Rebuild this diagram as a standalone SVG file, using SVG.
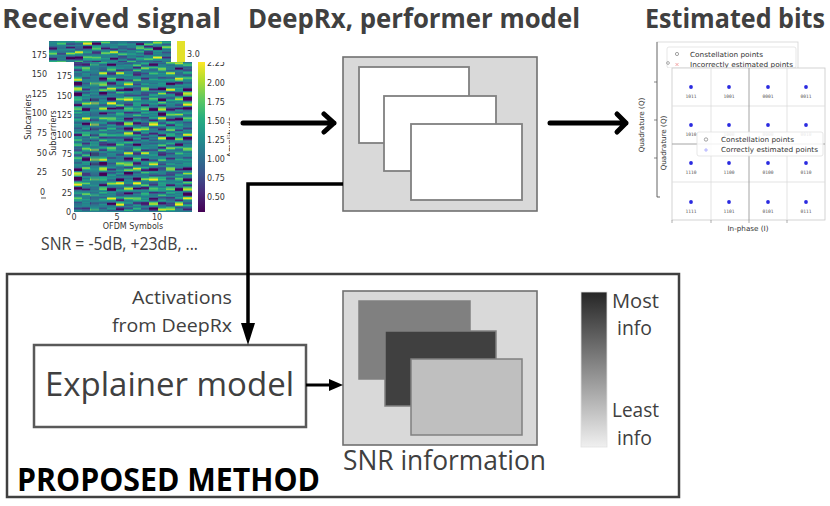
<svg xmlns="http://www.w3.org/2000/svg" width="830" height="506" viewBox="0 0 830 506">
<style>
.ttl{font-family:"Open Sans","Liberation Sans",sans-serif;font-weight:bold;font-size:26px;fill:#404040}
.lbl{font-family:"Open Sans","Liberation Sans",sans-serif;fill:#404040}
.tk{font-family:"DejaVu Sans",sans-serif;font-size:8px;fill:#333}
.tks{font-family:"DejaVu Sans",sans-serif;font-size:7.2px;fill:#333}
.lg{font-family:"DejaVu Sans",sans-serif;font-size:7px;fill:#333}
.bits{font-family:"DejaVu Sans Mono",monospace;font-size:4.6px;fill:#555;text-anchor:middle}
.grid{stroke:#dcdcdc;stroke-width:0.8}
.pt{fill:#2a2ae0}
.gbox{fill:#d9d9d9;stroke:#707070;stroke-width:1.6}
.wbox{fill:#ffffff;stroke:#808080;stroke-width:1.8}
.arrow{fill:none;stroke:#000;stroke-width:5;stroke-linecap:round;stroke-linejoin:round}
.hc{filter:url(#col)}
</style>
<defs>
<filter id="col" x="0" y="0" width="1" height="1" color-interpolation-filters="sRGB">
<feTurbulence type="fractalNoise" baseFrequency="0 0.2" numOctaves="2" seed="5"/>
<feColorMatrix type="matrix" values="2.1 0 0 0 -0.62  2.1 0 0 0 -0.62  2.1 0 0 0 -0.62  0 0 0 0 1"/>
<feComponentTransfer>
<feFuncR type="table" tableValues="0.267 0.282 0.231 0.173 0.129 0.157 0.369 0.678 0.992"/>
<feFuncG type="table" tableValues="0.004 0.157 0.322 0.447 0.569 0.682 0.788 0.863 0.906"/>
<feFuncB type="table" tableValues="0.329 0.471 0.545 0.557 0.549 0.502 0.384 0.188 0.145"/>
</feComponentTransfer>
</filter>
<linearGradient id="viridis" x1="0" y1="1" x2="0" y2="0">
<stop offset="0" stop-color="#440154"/>
<stop offset="0.125" stop-color="#482878"/>
<stop offset="0.25" stop-color="#3b528b"/>
<stop offset="0.375" stop-color="#2c728e"/>
<stop offset="0.5" stop-color="#21918c"/>
<stop offset="0.625" stop-color="#28ae80"/>
<stop offset="0.75" stop-color="#5ec962"/>
<stop offset="0.875" stop-color="#addc30"/>
<stop offset="1" stop-color="#fde725"/>
</linearGradient>
<linearGradient id="gray" x1="0" y1="0" x2="0" y2="1">
<stop offset="0" stop-color="#262626"/>
<stop offset="1" stop-color="#f0f0f0"/>
</linearGradient>
<clipPath id="frontClip"><rect x="49" y="62" width="181" height="180"/></clipPath>
</defs>
<rect width="830" height="506" fill="#ffffff"/>

<text class="ttl" x="2" y="28" textLength="219" lengthAdjust="spacingAndGlyphs">Received signal</text>
<text class="ttl" x="248" y="28" textLength="332" lengthAdjust="spacingAndGlyphs">DeepRx, performer model</text>
<text class="ttl" x="645" y="28" textLength="180" lengthAdjust="spacingAndGlyphs">Estimated bits</text>

<g id="received-signal">
<g id="back-heatmap">
<rect class="hc" x="0" y="8000" width="8.8" height="21" transform="translate(49,-7959)"/>
<rect class="hc" x="0" y="8200" width="8.8" height="21" transform="translate(57.7,-8159)"/>
<rect class="hc" x="0" y="8400" width="8.8" height="21" transform="translate(66.4,-8359)"/>
<rect class="hc" x="0" y="8600" width="8.8" height="21" transform="translate(75.1,-8559)"/>
<rect class="hc" x="0" y="8800" width="8.8" height="21" transform="translate(83.9,-8759)"/>
<rect class="hc" x="0" y="9000" width="8.8" height="21" transform="translate(92.6,-8959)"/>
<rect class="hc" x="0" y="9200" width="8.8" height="21" transform="translate(101.3,-9159)"/>
<rect class="hc" x="0" y="9400" width="8.8" height="21" transform="translate(110,-9359)"/>
<rect class="hc" x="0" y="9600" width="8.8" height="21" transform="translate(118.7,-9559)"/>
<rect class="hc" x="0" y="9800" width="8.8" height="21" transform="translate(127.4,-9759)"/>
<rect class="hc" x="0" y="10000" width="8.8" height="21" transform="translate(136.1,-9959)"/>
<rect class="hc" x="0" y="10200" width="8.8" height="21" transform="translate(144.9,-10159)"/>
<rect class="hc" x="0" y="10400" width="8.8" height="21" transform="translate(153.6,-10359)"/>
<rect class="hc" x="0" y="10600" width="8.7" height="21" transform="translate(162.3,-10559)"/>
</g>
<rect x="177" y="41" width="8" height="21" fill="#e3e12a"/>
<text class="tk" x="187" y="57">3.0</text>
<g class="tk" text-anchor="end">
<text x="47" y="58">175</text><text x="47" y="77">150</text><text x="47" y="97">125</text><text x="47" y="116">100</text>
<text x="47" y="136">75</text><text x="47" y="156">50</text><text x="47" y="175">25</text><text x="45" y="195">0</text>
</g>
<line x1="41" y1="198" x2="46" y2="198" stroke="#333" stroke-width="0.8"/>
<text class="tk" transform="translate(31,117) rotate(-90)" text-anchor="middle">Subcarriers</text>
<rect x="49" y="62" width="181" height="175" fill="#ffffff"/>
<g id="front-heatmap">
<rect class="hc" x="0" y="1000" width="8.5" height="150" transform="translate(74,-938)"/>
<rect class="hc" x="0" y="1400" width="8.5" height="150" transform="translate(82.4,-1338)"/>
<rect class="hc" x="0" y="1800" width="8.5" height="150" transform="translate(90.9,-1738)"/>
<rect class="hc" x="0" y="2200" width="8.5" height="150" transform="translate(99.3,-2138)"/>
<rect class="hc" x="0" y="2600" width="8.5" height="150" transform="translate(107.7,-2538)"/>
<rect class="hc" x="0" y="3000" width="8.5" height="150" transform="translate(116.1,-2938)"/>
<rect class="hc" x="0" y="3400" width="8.5" height="150" transform="translate(124.6,-3338)"/>
<rect class="hc" x="0" y="3800" width="8.5" height="150" transform="translate(133,-3738)"/>
<rect class="hc" x="0" y="4200" width="8.5" height="150" transform="translate(141.4,-4138)"/>
<rect class="hc" x="0" y="4600" width="8.5" height="150" transform="translate(149.9,-4538)"/>
<rect class="hc" x="0" y="5000" width="8.5" height="150" transform="translate(158.3,-4938)"/>
<rect class="hc" x="0" y="5400" width="8.5" height="150" transform="translate(166.7,-5338)"/>
<rect class="hc" x="0" y="5800" width="8.5" height="150" transform="translate(175.1,-5738)"/>
<rect class="hc" x="0" y="6200" width="8.4" height="150" transform="translate(183.6,-6138)"/>
<rect x="90.9" y="62" width="8.4" height="150" fill="#2a7f8e" fill-opacity="0.55"/>
</g>
<g class="tk" text-anchor="end">
<text x="72" y="79">175</text><text x="72" y="99">150</text><text x="72" y="118">125</text><text x="72" y="138">100</text>
<text x="72" y="157">75</text><text x="72" y="176">50</text><text x="72" y="196">25</text><text x="71" y="215">0</text>
</g>
<text class="tk" transform="translate(56,133) rotate(-90)" text-anchor="middle">Subcarriers</text>
<g class="tk" text-anchor="middle">
<text x="74" y="220">0</text><text x="117" y="220">5</text><text x="157" y="220">10</text>
<text x="133" y="229">OFDM Symbols</text>
</g>
<rect x="198" y="62" width="7" height="150" fill="url(#viridis)"/>
<g class="tk" clip-path="url(#frontClip)">
<text x="207" y="66">2.25</text>
<text x="207" y="86">2.00</text><text x="207" y="105">1.75</text><text x="207" y="124">1.50</text>
<text x="207" y="143">1.25</text><text x="207" y="162">1.00</text><text x="207" y="181">0.75</text><text x="207" y="200">0.50</text>
<text transform="translate(234,137) rotate(-90)" text-anchor="middle">Amplitude</text>
</g>
<text class="lbl" x="41" y="250" font-size="17.5" fill="#595959" textLength="157" lengthAdjust="spacingAndGlyphs">SNR = -5dB, +23dB, ...</text>
</g>

<g id="deeprx">
<rect class="gbox" x="343" y="57" width="194" height="154"/>
<rect class="wbox" x="359" y="67" width="110" height="76"/>
<rect class="wbox" x="384" y="96" width="112" height="75"/>
<rect class="wbox" x="411" y="124" width="111" height="76"/>
</g>

<g id="estimated-bits">
<rect x="657" y="42" width="141" height="155" fill="none" stroke="#d4d4d4" stroke-width="0.8"/>
<line x1="657" y1="42" x2="657" y2="197" stroke="#555" stroke-width="0.8"/>
<line x1="657" y1="197" x2="662" y2="197" stroke="#555" stroke-width="0.8"/>
<g stroke="#555" stroke-width="0.7"><line x1="654" y1="82" x2="657" y2="82"/><line x1="654" y1="120" x2="657" y2="120"/><line x1="654" y1="158" x2="657" y2="158"/></g>
<text class="tks" transform="translate(644,125) rotate(-90)" text-anchor="middle">Quadrature (Q)</text>
<rect x="667" y="47" width="129" height="21" rx="2" fill="#fff" stroke="#ddd" stroke-width="0.7"/>
<circle cx="677" cy="54" r="1.6" fill="none" stroke="#666" stroke-width="0.6"/>
<text class="lg" x="690" y="56.5" textLength="73" lengthAdjust="spacingAndGlyphs">Constellation points</text>
<path d="M675.5,63 l3,3 M678.5,63 l-3,3" stroke="#e88" stroke-width="0.7"/>
<text class="lg" x="690" y="66.5" textLength="103" lengthAdjust="spacingAndGlyphs">Incorrectly estimated points</text>
<circle cx="668" cy="63" r="1.4" fill="none" stroke="#777" stroke-width="0.6"/>
<rect x="660" y="68" width="170" height="172" fill="#fff"/>
<rect x="672" y="68" width="153" height="152" fill="none" stroke="#c8c8c8" stroke-width="0.8"/>
<g class="grid">
<line x1="711" y1="68" x2="711" y2="220"/><line x1="787" y1="68" x2="787" y2="220"/>
<line x1="672" y1="106" x2="825" y2="106"/><line x1="672" y1="182" x2="825" y2="182"/>
</g>
<g stroke="#9a9a9a" stroke-width="0.9"><line x1="749" y1="68" x2="749" y2="220"/><line x1="672" y1="144" x2="825" y2="144"/></g>
<g stroke="#777" stroke-width="0.6"><line x1="672" y1="220" x2="672" y2="223"/><line x1="711" y1="220" x2="711" y2="223"/><line x1="749" y1="220" x2="749" y2="223"/><line x1="787" y1="220" x2="787" y2="223"/></g>
<g class="pt">
<circle cx="691" cy="87" r="1.9"/><circle cx="729" cy="87" r="1.9"/><circle cx="768" cy="87" r="1.9"/><circle cx="806" cy="87" r="1.9"/>
<circle cx="691" cy="125" r="1.9"/><circle cx="729" cy="125" r="1.9"/><circle cx="768" cy="125" r="1.9"/><circle cx="806" cy="125" r="1.9"/>
<circle cx="691" cy="163" r="1.9"/><circle cx="729" cy="163" r="1.9"/><circle cx="768" cy="163" r="1.9"/><circle cx="806" cy="163" r="1.9"/>
<circle cx="691" cy="202" r="1.9"/><circle cx="729" cy="202" r="1.9"/><circle cx="768" cy="202" r="1.9"/><circle cx="806" cy="202" r="1.9"/>
</g>
<g class="bits">
<text x="691" y="98">1011</text><text x="729" y="98">1001</text><text x="768" y="98">0001</text><text x="806" y="98">0011</text>
<text x="691" y="136">1010</text><text x="729" y="136">1000</text><text x="768" y="136">0000</text><text x="806" y="136">0010</text>
<text x="691" y="174">1110</text><text x="729" y="174">1100</text><text x="768" y="174">0100</text><text x="806" y="174">0110</text>
<text x="691" y="213">1111</text><text x="729" y="213">1101</text><text x="768" y="213">0101</text><text x="806" y="213">0111</text>
</g>
<rect x="697" y="132" width="126" height="24" rx="2" fill="#fff" fill-opacity="0.85" stroke="#ddd" stroke-width="0.7"/>
<circle cx="706" cy="139.5" r="1.7" fill="none" stroke="#666" stroke-width="0.6"/>
<text class="lg" x="721" y="141.5" textLength="73" lengthAdjust="spacingAndGlyphs">Constellation points</text>
<path d="M704,150 h4 M706,148 v4" stroke="#99f" stroke-width="0.7"/>
<text class="lg" x="721" y="151.5" textLength="97" lengthAdjust="spacingAndGlyphs">Correctly estimated points</text>
<text class="tks" transform="translate(666,143) rotate(-90)" text-anchor="middle">Quadrature (Q)</text>
<text class="tks" x="748" y="231" text-anchor="middle">In-phase (I)</text>
</g>

<g id="proposed-method">
<rect x="7" y="274" width="672" height="223" fill="none" stroke="#404040" stroke-width="2.5"/>
<text x="17" y="491" font-family="'Open Sans','Liberation Sans',sans-serif" font-weight="bold" font-size="33" fill="#000" textLength="303" lengthAdjust="spacingAndGlyphs">PROPOSED METHOD</text>
<text class="lbl" x="232" y="304" font-size="18" text-anchor="end" textLength="100" lengthAdjust="spacingAndGlyphs">Activations</text>
<text class="lbl" x="232" y="332" font-size="18" text-anchor="end" textLength="120" lengthAdjust="spacingAndGlyphs">from DeepRx</text>
</g>

<g id="explainer">
<rect x="34" y="345" width="272" height="82" fill="#fff" stroke="#595959" stroke-width="2.5"/>
<text class="lbl" x="45" y="396" font-size="33" textLength="249" lengthAdjust="spacingAndGlyphs">Explainer model</text>
</g>

<g id="snr-information">
<rect class="gbox" x="343" y="291" width="194" height="154"/>
<rect x="359" y="301" width="111" height="78" fill="#808080" stroke="#808080" stroke-width="1.5"/>
<rect x="385" y="331" width="111" height="75" fill="#404040" stroke="#808080" stroke-width="1.5"/>
<rect x="411" y="359" width="111" height="76" fill="#bfbfbf" stroke="#808080" stroke-width="1.5"/>
<text class="lbl" x="343" y="470" font-size="27" textLength="203" lengthAdjust="spacingAndGlyphs">SNR information</text>
</g>

<g id="info-scale">
<rect x="581" y="292" width="26" height="155" fill="url(#gray)" stroke="#e0e0e0" stroke-width="0.8"/>
<text class="lbl" x="612" y="308" font-size="20" textLength="47" lengthAdjust="spacingAndGlyphs">Most</text>
<text class="lbl" x="617" y="335" font-size="20" textLength="35" lengthAdjust="spacingAndGlyphs">info</text>
<text class="lbl" x="612" y="417" font-size="20" textLength="47" lengthAdjust="spacingAndGlyphs">Least</text>
<text class="lbl" x="617" y="445" font-size="20" textLength="35" lengthAdjust="spacingAndGlyphs">info</text>
</g>

<g id="connectors">
<path class="arrow" d="M243,123 H334 M324,114 L334,123 L324,132"/>
<path class="arrow" d="M550,123 H626 M617,114 L626,123 L617,132"/>
<path d="M343,184 H248 V326" fill="none" stroke="#000" stroke-width="3.5"/>
<path d="M241,323 L248,345 L255,323 z" fill="#000"/>
<path d="M306,385 H331" fill="none" stroke="#000" stroke-width="3"/>
<path d="M329,379 L343,385 L329,391 z" fill="#000"/>
</g>
</svg>
